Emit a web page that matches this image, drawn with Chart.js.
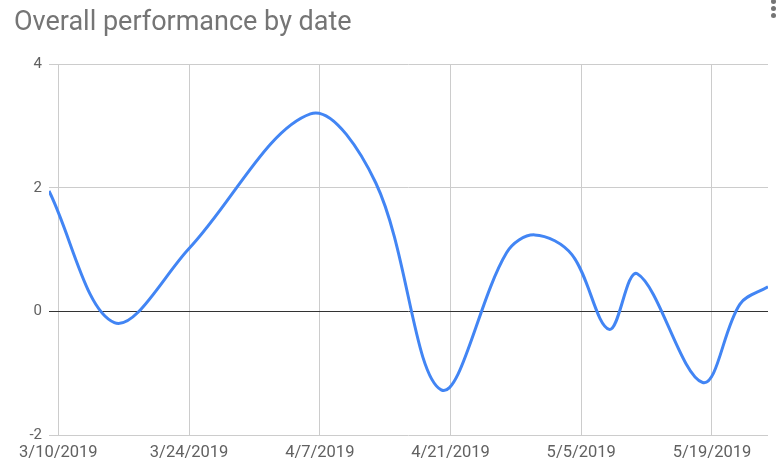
<!DOCTYPE html>
<html lang="en">
<head>
<meta charset="UTF-8">
<title>Overall performance by date</title>
<script src="https://cdn.jsdelivr.net/npm/chart.js"></script>
<style>
    body {
        margin: 0;
        background: #fff;
        font-family: Roboto, Arial, sans-serif;
    }
    .wrap {
        position: relative;
        width: 779px;
        height: 471px;
    }
    .menu {
        position: absolute;
        left: 771px;
        top: -1px;
    }
    .menu span {
        display: block;
        width: 5px;
        height: 5px;
        border-radius: 50%;
        background: #757575;
        margin-bottom: 2px;
    }
</style>
</head>
<body>
<div class="wrap">
    <canvas id="perfChart" width="779" height="471"></canvas>
    <div class="menu"><span></span><span></span><span></span></div>
</div>

<script>
// values
const dates = ['3/9/2019', '3/16/2019', '3/24/2019', '4/6/2019', '4/13/2019', '4/20/2019', '4/27/2019',
               '4/30/2019', '5/4/2019', '5/8/2019', '5/11/2019', '5/18/2019', '5/22/2019', '5/25/2019'];
const performance = [1.95, -0.18, 1.02, 3.2, 2.08, -1.27, 0.95, 1.24, 0.92, -0.29, 0.61, -1.15, 0.12, 0.40];
const xTickLabels = ['3/10/2019', '3/24/2019', '4/7/2019', '4/21/2019', '5/5/2019', '5/19/2019'];
const yTicks = [-2, 0, 2, 4];

function toDay(s) {
    const [m, d, y] = s.split('/').map(Number);
    return Date.UTC(y, m - 1, d) / 86400000;
}
const day0 = toDay(dates[0]);
const points = dates.map((d, i) => ({ x: toDay(d) - day0, y: performance[i] }));
const xTicks = xTickLabels.map(d => toDay(d) - day0);

const ctx = document.getElementById('perfChart').getContext('2d');
new Chart(ctx, {
    type: 'line',
    data: {
        datasets: [{
            label: 'Performance',
            data: points,
            borderColor: '#4285f4',
            borderWidth: 3,
            pointRadius: 0,
            tension: 0.35,
            fill: false
        }]
    },
    options: {
        responsive: false,
        animation: false,
        layout: { padding: { left: 14, right: 11, bottom: 0, top: 0 } },
        plugins: {
            legend: { display: false },
            tooltip: { enabled: false },
            title: {
                display: true,
                text: 'Overall performance by date',
                align: 'start',
                color: '#757575',
                font: { family: 'Roboto', size: 27, weight: 'normal' },
                padding: { top: 7, bottom: 25 }
            }
        },
        scales: {
            x: {
                type: 'linear',
                min: 0,
                max: toDay(dates[dates.length - 1]) - day0,
                afterBuildTicks: s => { s.ticks = xTicks.map(v => ({ value: v })); },
                afterFit: s => { s.height = 36; },
                border: { display: false },
                grid: { color: '#cccccc', drawTicks: false },
                ticks: {
                    color: '#616161',
                    font: { family: 'Roboto', size: 16.5 },
                    padding: 8,
                    maxRotation: 0,
                    autoSkip: false,
                    callback: v => xTickLabels[xTicks.indexOf(v)]
                }
            },
            y: {
                min: -2,
                max: 4,
                afterBuildTicks: s => { s.ticks = yTicks.map(v => ({ value: v })); },
                afterFit: s => { s.width = 35; },
                border: { display: false },
                grid: {
                    color: c => c.tick && c.tick.value === 0 ? '#333333' : '#cccccc',
                    drawTicks: false
                },
                ticks: {
                    color: '#616161',
                    font: { family: 'Roboto', size: 15 },
                    padding: 7
                }
            }
        }
    }
});
</script>
</body>
</html>
